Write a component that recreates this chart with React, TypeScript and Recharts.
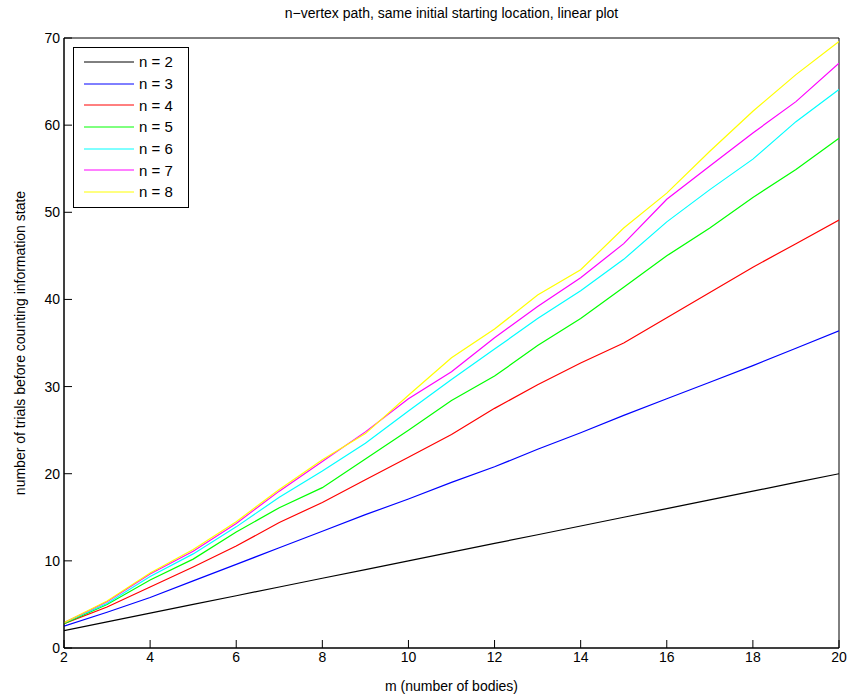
import React from "react";
import {
  LineChart,
  Line,
  XAxis,
  YAxis,
  ReferenceArea,
} from "recharts";

// m (number of bodies)
const bodies = [2, 3, 4, 5, 6, 7, 8, 9, 10, 11, 12, 13, 14, 15, 16, 17, 18, 19, 20];

// trials before counting information state, one array per n
const n2 = [2, 3, 4, 5, 6, 7, 8, 9, 10, 11, 12, 13, 14, 15, 16, 17, 18, 19, 20];
const n3 = [2.5, 4.1, 5.8, 7.7, 9.6, 11.5, 13.4, 15.3, 17.1, 19.0, 20.8, 22.8, 24.7, 26.7, 28.6, 30.5, 32.4, 34.4, 36.4];
const n4 = [2.8, 4.7, 7.0, 9.3, 11.7, 14.4, 16.7, 19.3, 21.9, 24.5, 27.5, 30.2, 32.7, 35.0, 37.9, 40.8, 43.7, 46.4, 49.1];
const n5 = [2.8, 5.0, 7.8, 10.2, 13.3, 16.1, 18.4, 21.7, 25.0, 28.4, 31.2, 34.7, 37.8, 41.4, 45.0, 48.2, 51.7, 54.9, 58.5];
const n6 = [2.9, 5.1, 8.2, 10.8, 13.9, 17.3, 20.3, 23.5, 27.2, 30.8, 34.3, 37.8, 41.0, 44.6, 48.9, 52.6, 56.1, 60.4, 64.1];
const n7 = [2.9, 5.3, 8.5, 11.1, 14.3, 18.0, 21.4, 24.8, 28.6, 31.7, 35.6, 39.2, 42.5, 46.4, 51.5, 55.3, 59.1, 62.7, 67.1];
const n8 = [2.9, 5.4, 8.6, 11.3, 14.5, 18.2, 21.6, 24.6, 29.0, 33.3, 36.6, 40.5, 43.4, 48.2, 52.2, 57.0, 61.6, 65.8, 69.6];

const xTicks = [2, 4, 6, 8, 10, 12, 14, 16, 18, 20];
const yTicks = [0, 10, 20, 30, 40, 50, 60, 70];

const series = [
  { key: "n2", name: "n = 2", color: "#000000", values: n2 },
  { key: "n3", name: "n = 3", color: "#0000ff", values: n3 },
  { key: "n4", name: "n = 4", color: "#ff0000", values: n4 },
  { key: "n5", name: "n = 5", color: "#00ff00", values: n5 },
  { key: "n6", name: "n = 6", color: "#00ffff", values: n6 },
  { key: "n7", name: "n = 7", color: "#ff00ff", values: n7 },
  { key: "n8", name: "n = 8", color: "#ffff00", values: n8 },
];

const data = bodies.map((m, i) => {
  const row: Record<string, number> = { m };
  series.forEach((s) => {
    row[s.key] = s.values[i];
  });
  return row;
});

const font = "'Liberation Sans', Arial, sans-serif";

// box legend in the upper-left corner, like the MATLAB one
const LegendBox = () => (
  <div
    style={{
      position: "absolute",
      left: 73,
      top: 47,
      width: 114,
      height: 156,
      border: "1px solid #000",
      background: "#fff",
      paddingTop: 3,
      boxSizing: "content-box",
      fontFamily: font,
      fontSize: 15,
      color: "#000",
    }}
  >
    {series.map((s) => (
      <div
        key={s.key}
        style={{ display: "flex", alignItems: "center", height: 21.7 }}
      >
        <svg width={65} height={10}>
          <line x1={10} x2={60} y1={5} y2={5} stroke={s.color} strokeWidth={1} />
        </svg>
        <span>{s.name}</span>
      </div>
    ))}
  </div>
);

const App: React.FC = () => {
  const tickStyle = { fill: "#000", fontSize: 14, fontFamily: font };
  return (
    <div style={{ position: "absolute", left: 0, top: 0, width: 854, height: 700, background: "#fff" }}>
      <div
        style={{
          position: "absolute",
          left: 64,
          width: 775,
          top: 5,
          textAlign: "center",
          fontFamily: font,
          fontSize: 14,
          color: "#000",
        }}
      >
        n−vertex path, same initial starting location, linear plot
      </div>
      <LineChart
        width={854}
        height={700}
        data={data}
        margin={{ top: 38, right: 15, bottom: 22, left: 24 }}
      >
        <XAxis
          dataKey="m"
          type="number"
          domain={[2, 20]}
          ticks={xTicks}
          height={30}
          tickSize={-8}
          tickMargin={12}
          tick={tickStyle}
          stroke="#000"
          allowDataOverflow
        />
        <XAxis
          xAxisId="top"
          orientation="top"
          type="number"
          domain={[2, 20]}
          ticks={xTicks}
          height={0}
          tickSize={-8}
          tickFormatter={() => ""}
          stroke="#000"
          allowDataOverflow
        />
        <YAxis
          type="number"
          domain={[0, 70]}
          ticks={yTicks}
          width={40}
          tickSize={-8}
          tickMargin={12}
          tick={tickStyle}
          stroke="#000"
          allowDataOverflow
        />
        <YAxis
          yAxisId="right"
          orientation="right"
          type="number"
          domain={[0, 70]}
          ticks={yTicks}
          width={0}
          tickSize={-8}
          tickFormatter={() => ""}
          stroke="#000"
          allowDataOverflow
        />
        <ReferenceArea
          x1={2}
          x2={20}
          y1={0}
          y2={70}
          fill="none"
          fillOpacity={0}
          stroke="#000"
          strokeWidth={1}
          ifOverflow="visible"
        />
        {series.map((s) => (
          <Line
            key={s.key}
            dataKey={s.key}
            name={s.name}
            stroke={s.color}
            strokeWidth={1.2}
            dot={false}
            type="linear"
            isAnimationActive={false}
          />
        ))}
      </LineChart>
      <LegendBox />
      <div
        style={{
          position: "absolute",
          left: 64,
          width: 775,
          top: 678,
          textAlign: "center",
          fontFamily: font,
          fontSize: 14,
          color: "#000",
        }}
      >
        m (number of bodies)
      </div>
      <div
        style={{
          position: "absolute",
          left: 20,
          top: 343,
          transform: "translate(-50%, -50%) rotate(-90deg)",
          whiteSpace: "nowrap",
          fontFamily: font,
          fontSize: 14,
          color: "#000",
        }}
      >
        number of trials before counting information state
      </div>
    </div>
  );
};

export default App;
